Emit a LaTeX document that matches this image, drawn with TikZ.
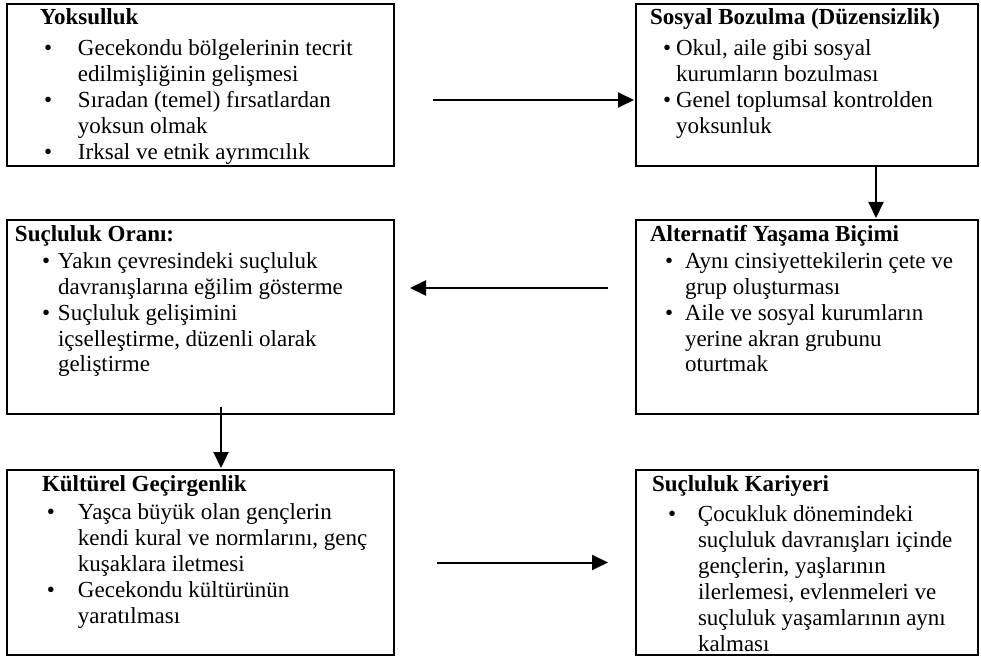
\documentclass[tikz,border=0pt]{standalone}
\usepackage{fontspec}
\setmainfont{Liberation Serif}
\usetikzlibrary{arrows.meta, positioning}

% kutu icerigi: genislik, yukseklik, metin
\newcommand{\kutu}[3]{\parbox[c][#2][t]{#1}{#3}}
\newcommand{\baslik}[3][1pt]{\noindent\hspace*{#2}\rule{0pt}{10.5pt}\textbf{#3}\par\vspace{#1}}
\newcommand{\madde}[3]{\hangindent=#2\hangafter=1\noindent\makebox[#2][l]{\hspace*{#1}\textbullet}#3\par}

\begin{document}
\begin{tikzpicture}[
	blok/.style={draw, line width=1.4pt, inner sep=0pt, outer sep=0pt, font=\fontsize{11.5}{13}\selectfont},
	ok/.style={-{Triangle[length=8pt, width=7.5pt]}, line width=1pt},
	node distance=27pt and 121pt
]
	\useasboundingbox (0,0) rectangle (490.5pt,-329pt);

	% Ust sira
	\node[blok, anchor=north west] (yoks) at (3.5pt,-2pt) {\kutu{193.5pt}{81pt}{
		\baslik[2.5pt]{16.5pt}{Yoksulluk}
		\madde{18.5pt}{35.5pt}{Gecekondu bölgelerinin tecrit\\edilmişliğinin gelişmesi}
		\madde{18.5pt}{35.5pt}{Sıradan (temel) fırsatlardan\\yoksun olmak}
		\madde{18.5pt}{35.5pt}{Irksal ve etnik ayrımcılık}}};
	\node[blok, right=of yoks] (sosyal) {\kutu{171pt}{81pt}{
		\baslik[2.5pt]{7pt}{Sosyal Bozulma (Düzensizlik)}
		\madde{13.5pt}{20pt}{Okul, aile gibi sosyal\\kurumların bozulması}
		\madde{13.5pt}{20pt}{Genel toplumsal kontrolden\\yoksunluk}}};

	% Orta sira
	\node[blok, below=of yoks] (oran) {\kutu{193.5pt}{97pt}{
		\baslik[0.5pt]{4pt}{Suçluluk Oranı:}
		\madde{17.5pt}{25.5pt}{Yakın çevresindeki suçluluk\\davranışlarına eğilim gösterme}
		\madde{17.5pt}{25.5pt}{Suçluluk gelişimini\\içselleştirme, düzenli olarak\\geliştirme}}};
	\node[blok, below=of sosyal] (alternatif) {\kutu{171pt}{97pt}{
		\baslik[0.5pt]{7pt}{Alternatif Yaşama Biçimi}
		\madde{14.5pt}{24.5pt}{Aynı cinsiyettekilerin çete ve\\grup oluşturması}
		\madde{14.5pt}{24.5pt}{Aile ve sosyal kurumların\\yerine akran grubunu\\oturtmak}}};

	% Alt sira
	\node[blok, below=28pt of oran] (kultur) {\kutu{193.5pt}{92.5pt}{
		\baslik{17.5pt}{Kültürel Geçirgenlik}
		\madde{20pt}{35.5pt}{Yaşca büyük olan gençlerin\\kendi kural ve normlarını, genç\\kuşaklara iletmesi}
		\madde{20pt}{35.5pt}{Gecekondu kültürünün\\yaratılması}}};
	\node[blok, below=28pt of alternatif] (kariyer) {\kutu{171pt}{92.5pt}{
		\baslik[2pt]{8pt}{Suçluluk Kariyeri}
		\madde{16pt}{31pt}{Çocukluk dönemindeki\\suçluluk davranışları içinde\\gençlerin, yaşlarının\\ilerlemesi, evlenmeleri ve\\suçluluk yaşamlarının aynı\\kalması}}};

	% Oklar
	\coordinate (a1) at ([xshift=19.5pt, yshift=-7.5pt]yoks.east);
	\draw[ok, shorten >=1pt] (a1) -- (a1 -| sosyal.west);
	\draw[ok, shorten >=1pt] ([xshift=34.5pt]sosyal.south) -- ([xshift=34.5pt]alternatif.north);
	\coordinate (a2) at ([xshift=-14pt, yshift=14.5pt]alternatif.west);
	\coordinate (a2u) at ([xshift=8pt, yshift=14.5pt]oran.east);
	\draw[ok] (a2) -- (a2u);
	\draw[ok, shorten >=1pt] ([xshift=10.25pt, yshift=3.5pt]oran.south) -- ([xshift=10.25pt]kultur.north);
	\coordinate (a3) at ([xshift=21.5pt]kultur.east);
	\coordinate (a3u) at ([xshift=-14pt]kariyer.west);
	\draw[ok] (a3) -- (a3u);
\end{tikzpicture}
\end{document}
